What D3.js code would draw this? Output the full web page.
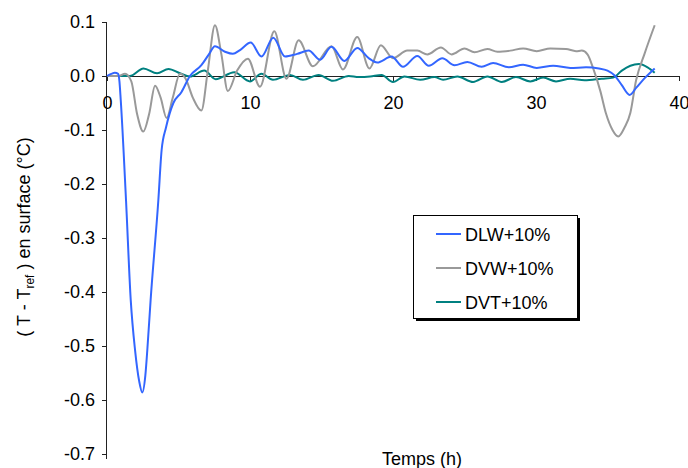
<!DOCTYPE html>
<html>
<head>
<meta charset="utf-8">
<script src="https://cdn.jsdelivr.net/npm/d3@7"></script>
<style>
  body { margin: 0; background: #fff; }
  svg { display: block; font-family: Arial, "Liberation Sans", sans-serif; }
</style>
</head>
<body>
<svg id="chart" width="688" height="468"></svg>
<script>
// series: [time (h), T - Tref (°C)]
const dlw = [[0,0],[0.3,0.004],[0.55,0.006],[0.78,0.004],[0.87,-0.01],[0.96,-0.044],[1.33,-0.23],[1.66,-0.415],[1.96,-0.507],[2.25,-0.565],[2.47,-0.586],[2.68,-0.555],[2.82,-0.507],[3.05,-0.415],[3.59,-0.23],[3.82,-0.137],[4.13,-0.095],[4.64,-0.05],[5.2,-0.03],[5.8,0],[6.6,0.02],[7.1,0.039],[7.55,0.055],[8.25,0.045],[8.8,0.041],[9.3,0.048],[10.05,0.062],[10.8,0.036],[11.63,0.071],[12.45,0.036],[13.3,0.041],[14.1,0.047],[14.9,0.03],[15.7,0.054],[16.6,0.028],[17.5,0.052],[18.3,0.033],[18.9,0.025],[19.9,0.036],[20.7,0.017],[21.7,0.037],[22.5,0.019],[23.45,0.033],[24.3,0.02],[25.2,0.026],[26.2,0.017],[27.0,0.024],[28.1,0.016],[29.1,0.021],[30.05,0.015],[31.2,0.019],[32.4,0.015],[33.5,0.016],[34.4,0.014],[35.0,0.01],[35.5,0.001],[36.0,-0.017],[36.55,-0.035],[37.0,-0.022],[37.6,-0.004],[38.3,0.014]];
const dvw = [[0,0],[0.8,0],[1.26,0.004],[1.7,-0.01],[2.1,-0.07],[2.54,-0.103],[2.95,-0.07],[3.36,-0.018],[3.75,-0.04],[4.17,-0.078],[4.6,-0.04],[5.1,0.004],[5.5,-0.005],[6.0,-0.04],[6.6,-0.064],[7.05,0.01],[7.55,0.094],[8.0,0.04],[8.45,-0.028],[9.1,0.01],[9.85,0.032],[10.7,-0.02],[11.7,0.083],[12.55,-0.005],[13.4,0.066],[14.4,0.018],[15.7,0.055],[16.5,0.012],[17.5,0.072],[18.35,0.014],[19.15,0.057],[20.0,0.033],[21.0,0.047],[21.7,0.047],[22.4,0.04],[23.35,0.053],[24.1,0.04],[25.0,0.051],[25.7,0.044],[26.6,0.05],[27.3,0.045],[28.2,0.047],[29.1,0.051],[30.05,0.046],[31.0,0.051],[32.1,0.05],[32.8,0.046],[33.2,0.047],[33.6,0.04],[34.0,0.014],[34.5,-0.028],[34.9,-0.07],[35.35,-0.1],[35.75,-0.112],[36.2,-0.095],[36.6,-0.068],[37.0,-0.008],[37.6,0.042],[38.3,0.094]];
const dvt = [[0,0],[1,0],[1.6,0],[2.55,0.014],[3.5,0.005],[4.3,0.013],[5.1,0.005],[5.8,-0.001],[6.8,0.01],[7.6,-0.006],[8.9,0.007],[10.0,-0.01],[10.8,0.004],[11.6,-0.007],[12.8,0.002],[13.7,-0.007],[14.8,0.002],[15.8,-0.009],[16.9,0],[17.6,-0.002],[18.4,-0.001],[19.2,0.002],[20.0,-0.011],[20.8,-0.001],[21.9,-0.007],[22.9,-0.002],[23.5,-0.007],[24.5,-0.001],[25.6,-0.011],[26.6,-0.001],[27.6,-0.011],[28.6,-0.002],[29.6,-0.01],[30.5,-0.003],[31.4,-0.01],[32.4,-0.005],[33.4,-0.008],[34.6,-0.005],[35.4,-0.003],[36.0,0.01],[36.6,0.019],[37.2,0.022],[37.8,0.016],[38.3,0.006]];

const seriesNames = ["DLW+10%", "DVW+10%", "DVT+10%"];
const seriesColors = ["#3366ff", "#999999", "#008080"];
const xTicks = [0, 10, 20, 30, 40];
const yTicks = [0.1, 0.0, -0.1, -0.2, -0.3, -0.4, -0.5, -0.6, -0.7];

const svg = d3.select("#chart");
const x = d3.scaleLinear().domain([0, 40]).range([107, 679]);
const y = d3.scaleLinear().domain([-0.7, 0.1]).range([454, 22]);

// y axis (vertical line at x = 0, ticks to the left)
const yAxis = svg.append("g")
  .attr("transform", `translate(${x(0)},0)`)
  .call(d3.axisLeft(y).tickValues(yTicks).tickSize(5).tickPadding(7)
    .tickFormat(d3.format(".1f")));
yAxis.select(".domain").attr("d", `M-0.5,${y(0.1)}V${y(-0.7) + 5}`).attr("stroke", "#222");
yAxis.selectAll(".tick line").attr("stroke", "#222");
yAxis.selectAll(".tick text").attr("font-size", 18).attr("fill", "#000")
  .text(d => d3.format(".1f")(d).replace("−", "-"));

// x axis along y = 0, ticks hanging down, labels below
const xAxis = svg.append("g")
  .attr("transform", `translate(0,${y(0)})`)
  .call(d3.axisBottom(x).tickValues(xTicks).tickSize(5).tickPadding(15));
xAxis.select(".domain").attr("stroke", "#222").attr("d", `M${x(0)},0.5H${x(40)}`);
xAxis.selectAll(".tick line").attr("stroke", "#222");
xAxis.selectAll(".tick text").attr("font-size", 18).attr("fill", "#000");

// lines
const line = d3.line()
  .x(d => x(d[0]))
  .y(d => y(d[1]))
  .curve(d3.curveMonotoneX);

[dvt, dvw, dlw].forEach((s, i) => {
  const idx = [2, 1, 0][i];
  svg.append("path")
    .datum(s)
    .attr("d", line)
    .attr("fill", "none")
    .attr("stroke", seriesColors[idx])
    .attr("stroke-width", 2);
});

// axis titles
svg.append("text")
  .attr("x", 422).attr("y", 465)
  .attr("text-anchor", "middle")
  .attr("font-size", 18)
  .text("Temps (h)");

const yt = svg.append("text")
  .attr("transform", "translate(30,237) rotate(-90)")
  .attr("text-anchor", "middle")
  .attr("font-size", 18);
yt.append("tspan").text("( T - T");
yt.append("tspan").attr("font-size", 12).attr("dy", 4).text("ref");
yt.append("tspan").attr("dy", -4).text(" ) en surface (°C)");

// legend
const lg = svg.append("g");
lg.append("rect").attr("x", 416).attr("y", 218).attr("width", 164).attr("height", 103).attr("fill", "#000");
lg.append("rect").attr("x", 413.5).attr("y", 215.5).attr("width", 164).attr("height", 103)
  .attr("fill", "#fff").attr("stroke", "#000").attr("stroke-width", 1);
seriesNames.forEach((n, i) => {
  const cy = 234 + i * 34;
  lg.append("line").attr("x1", 436).attr("x2", 461).attr("y1", cy).attr("y2", cy)
    .attr("stroke", seriesColors[i]).attr("stroke-width", 2);
  lg.append("text").attr("x", 465).attr("y", cy + 6.5).attr("font-size", 18).text(n);
});
</script>
</body>
</html>
